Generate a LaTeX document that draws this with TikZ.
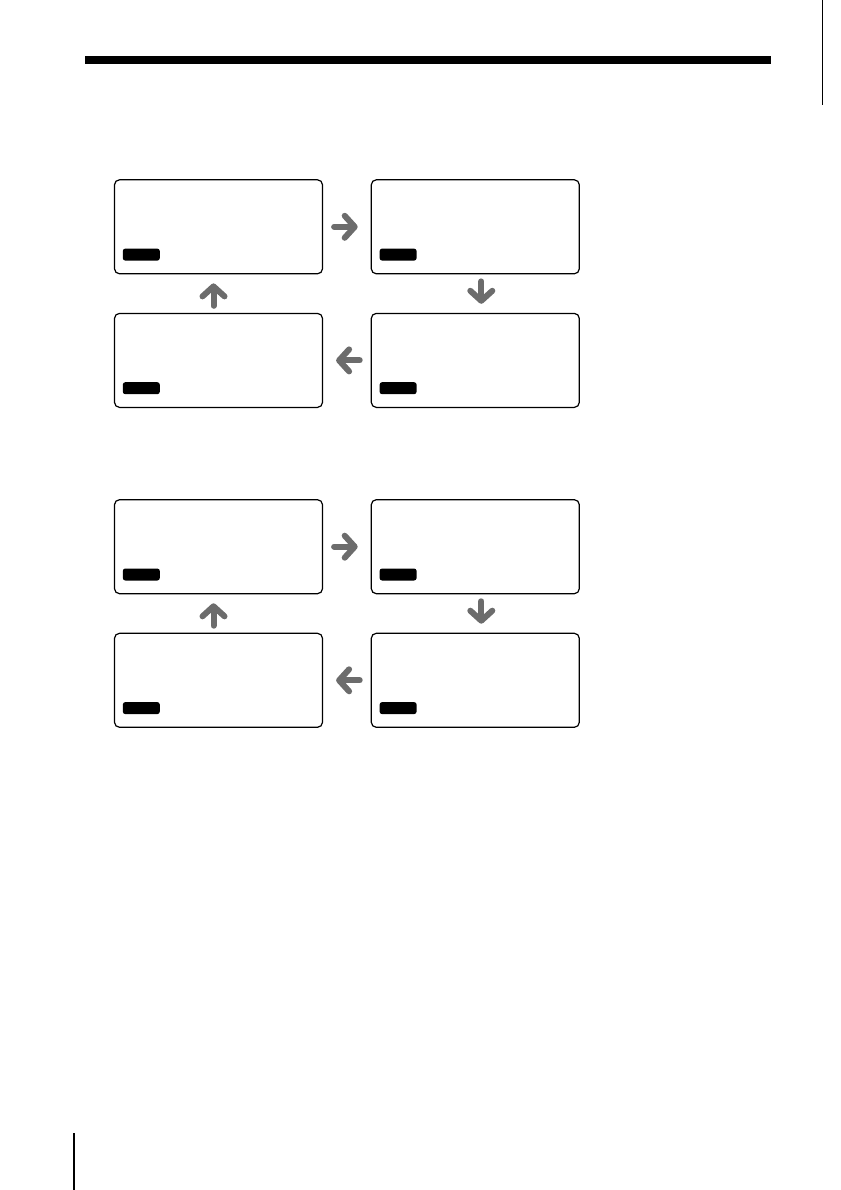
\documentclass[tikz,border=0pt]{standalone}
\usepackage{tikz}
\usetikzlibrary{arrows.meta,positioning}
\definecolor{arrowgray}{RGB}{108,108,108}

\begin{document}
\begin{tikzpicture}[x=1pt, y=-1pt,
    screen/.style={draw, rounded corners=5pt, line width=1.2pt, minimum width=208pt, minimum height=94pt, inner sep=0pt},
    pill/.style={fill=black, rounded corners=2.5pt, minimum width=37pt, minimum height=12pt, inner sep=0pt, anchor=south west},
    flow/.style={draw=arrowgray, line width=6pt, line cap=round, -{Straight Barb[round, length=10pt, width=22pt]}}
  ]
  \useasboundingbox (0,0) rectangle (840,1190);

  % page furniture
  \fill (85,56) rectangle (771,63.7);
  \draw[line width=0.5pt] (822,0) -- (822,105);
  \draw[line width=2pt] (74,1133) -- (74,1190);

  % two display cycles
  \foreach \g/\y in {1/226.8, 2/546.7} {
    \node[screen] (tl\g) at (218.5, \y) {};
    \node[screen] (tr\g) at (475.3, \y) {};
    \node[screen] (br\g) at (475.3, \y+133.6) {};
    \node[screen] (bl\g) at (218.5, \y+133.6) {};

    \node[pill] at ([shift={(8.7pt,13.6pt)}]tl\g.south west) {};
    \node[pill] at ([shift={(8.7pt,13.6pt)}]tr\g.south west) {};
    \node[pill] at ([shift={(8.7pt,13.6pt)}]br\g.south west) {};
    \node[pill] at ([shift={(8.7pt,13.6pt)}]bl\g.south west) {};

    \draw[flow, shorten <=11pt, shorten >=13pt] (tl\g) -- (tr\g);
    \draw[flow, shorten <=7pt, shorten >=9pt] ([xshift=6pt]tr\g.south) -- ([xshift=6pt]br\g.north);
    \draw[flow, shorten <=11pt, shorten >=13pt] (br\g) -- (bl\g);
    \draw[flow, shorten <=7pt, shorten >=9pt] ([xshift=-5pt]bl\g.north) -- ([xshift=-5pt]tl\g.south);
  }
\end{tikzpicture}
\end{document}
